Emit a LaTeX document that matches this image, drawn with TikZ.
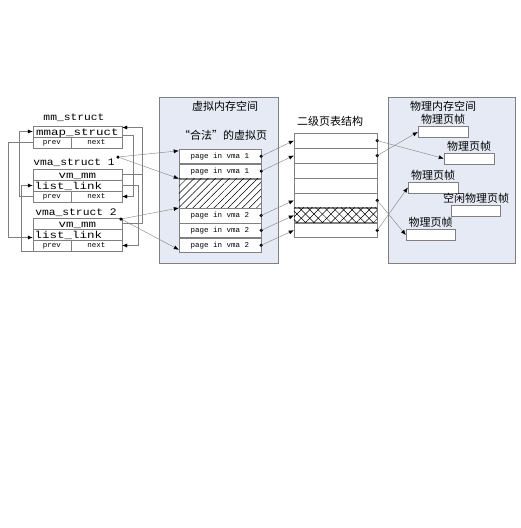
\documentclass[tikz,border=0pt]{standalone}
\usepackage{fontspec}
\setmonofont{Liberation Mono}
\newfontfamily\widemono[FakeStretch=1.25]{Liberation Mono}
\newfontfamily\namemono[FakeStretch=1.13]{Liberation Mono}
\newfontfamily\cjk{Noto Sans CJK SC}
\usetikzlibrary{arrows.meta,patterns.meta,positioning}
\definecolor{spacefill}{HTML}{E5EAF5}
\definecolor{linegray}{gray}{0.5}
\begin{document}
\begin{tikzpicture}[x=1pt,y=-1pt,
	field/.style={draw=linegray,fill=white,inner sep=0pt,minimum height=11pt,text height=8.5pt,text depth=1.5pt,font=\widemono\fontsize{10}{11}\selectfont},
	linkfield/.style={field,text width=86pt,align=left,inner xsep=1.5pt},
	smallfield/.style={field,text height=5pt,text depth=1pt,font=\ttfamily\fontsize{7.5}{8}\selectfont},
	pagerow/.style={draw=linegray,fill=white,inner sep=0pt,minimum width=82pt,minimum height=14.5pt,text height=5pt,text depth=1pt,font=\ttfamily\fontsize{7.5}{8}\selectfont},
	ptrow/.style={draw=linegray,fill=white,inner sep=0pt,minimum width=83pt,minimum height=14.55pt},
	pframe/.style={draw=linegray,fill=white,inner sep=0pt,minimum width=50pt,minimum height=11pt},
	title/.style={inner sep=0pt,font=\cjk\fontsize{11}{12}\selectfont},
	structname/.style={inner sep=0pt,text height=6pt,text depth=1.5pt,font=\namemono\fontsize{10}{11}\selectfont},
	link/.style={draw=linegray,-{Latex[length=5pt,width=4pt,color=black]}},
	wire/.style={draw=linegray},
	dot/.style={circle,fill=black,inner sep=0pt,minimum size=3.5pt}]
	\useasboundingbox (0,0) rectangle (520,528);

	% address spaces
	\draw[linegray,fill=spacefill] (159,97) rectangle (278,263);
	\draw[linegray,fill=spacefill] (388,97) rectangle (515,263);
	\node[title] (vtitle) at (225,106) {虚拟内存空间};
	\node[title] (legal) at (223,135) {“合法”的虚拟页};
	\node[title] (pttitle) at (330,121.5) {二级页表结构};
	\node[title] (ptitle) at (443,106) {物理内存空间};

	% mm_struct and the vma list
	\node[structname] (mmname) at (74,118) {mm\_struct};
	\node[field,minimum width=89pt] (mmap) at (77.5,131.5) {mmap\_struct};
	\node[smallfield,minimum width=38pt] (mmprev) at (52,142.5) {prev};
	\node[smallfield,minimum width=51pt] (mmnext) at (96.5,142.5) {next};

	\node[structname] (v1name) at (74,163.5) {vma\_struct 1};
	\node[field,minimum width=89pt] (v1mm) at (77.5,174.5) {vm\_mm};
	\node[linkfield] (v1ll) at (77.5,185.5) {list\_link};
	\node[smallfield,minimum width=38pt] (v1prev) at (52,196.5) {prev};
	\node[smallfield,minimum width=51pt] (v1next) at (96.5,196.5) {next};
	\node[dot] (d1) at (118,157) {};

	\node[structname] (v2name) at (76,213) {vma\_struct 2};
	\node[field,minimum width=89pt] (v2mm) at (77.5,223.5) {vm\_mm};
	\node[linkfield] (v2ll) at (77.5,234.5) {list\_link};
	\node[smallfield,minimum width=38pt] (v2prev) at (52,245.5) {prev};
	\node[smallfield,minimum width=51pt] (v2next) at (96.5,245.5) {next};
	\node[dot] (d2) at (121,219) {};

	\draw[link] (v1prev.west) -- ++(-14,0) |- (mmap.west);
	\draw[link] (mmprev.west) -- ++(-25,0) |- ([yshift=-3pt]v2ll.west);
	\draw[link] (v2prev.south west) -- ++(-11.5,0) |- (v1ll.west);
	\coordinate (vmbus) at ([xshift=20pt]v1mm.east);
	\draw[wire] (v2mm.east) -| (vmbus);
	\draw[link] (v1mm.east) -- (vmbus) |- ([yshift=4pt]mmap.east);
	\draw[link] ([yshift=-4pt]mmap.east) -- ++(11,0) |- (v1next.east);
	\draw[link] (v1ll.east) -- ++(16,0) |- (v2next.east);

	% legal virtual pages
	\node[pagerow] (pg1) at (220,156.25) {page in vma 1};
	\node[pagerow,below=0pt of pg1] (pg2) {page in vma 1};
	\node[pagerow,minimum height=29pt,below=0pt of pg2] (hatch) {};
	\path[pattern={Lines[angle=45,distance=5pt,line width=0.5pt]}] (hatch.north west) rectangle (hatch.south east);
	\node[pagerow,below=0pt of hatch] (pg3) {page in vma 2};
	\node[pagerow,below=0pt of pg3] (pg4) {page in vma 2};
	\node[pagerow,below=0pt of pg4] (pg5) {page in vma 2};
	\foreach \p in {pg1,pg2,pg3,pg4,pg5}
		\node[dot] at (\p.east) {};

	\draw[link] (d1) -- ([yshift=-2pt]pg1.north west);
	\draw[link] (d1) -- (hatch.north west);
	\draw[link] (d2) -- (pg3.north west);
	\draw[link] (d2) -- ([yshift=3pt]pg5.south west);

	% page table
	\node[ptrow] (pt1) at (335.5,140.6) {};
	\foreach \i [remember=\i as \prev (initially 1)] in {2,...,7}
		\node[ptrow,below=0pt of pt\prev] (pt\i) {};
	\path[pattern={Lines[angle=45,distance=6pt,line width=0.5pt]}] (pt6.north west) rectangle (pt6.south east);
	\path[pattern={Lines[angle=-45,distance=6pt,line width=0.5pt]}] (pt6.north west) rectangle (pt6.south east);
	\foreach \p in {pt1,pt2,pt5,pt7}
		\node[dot] at (\p.east) {};

	\draw[link] (pg1.east) -- (pt1.west);
	\draw[link] (pg2.east) -- (pt2.west);
	\draw[link] (pg3.east) -- (pt5.west);
	\draw[link] (pg4.east) -- (pt6.west);
	\draw[link] (pg5.east) -- (pt7.west);

	% physical frames
	\node[pframe] (f1) at (443,132) {};
	\node[pframe] (f2) at (469,158.5) {};
	\node[pframe] (f3) at (433,187.5) {};
	\node[pframe,minimum width=49pt] (f4) at (476,210.5) {};
	\node[pframe,minimum width=49pt] (f5) at (430.5,235) {};
	\node[title,above=1.5pt of f1] (f1label) {物理页帧};
	\node[title,above=1.5pt of f2] (f2label) {物理页帧};
	\node[title,above=1.5pt of f3] (f3label) {物理页帧};
	\node[title,above=1.5pt of f4] (f4label) {空闲物理页帧};
	\node[title,above=1.5pt of f5] (f5label) {物理页帧};

	\draw[link] (pt1.east) -- (f2.west);
	\draw[link] (pt2.east) -- (f1.west);
	\draw[link] (pt5.east) -- (f5.west);
	\draw[link] (pt7.east) -- (f3.west);
\end{tikzpicture}
\end{document}
